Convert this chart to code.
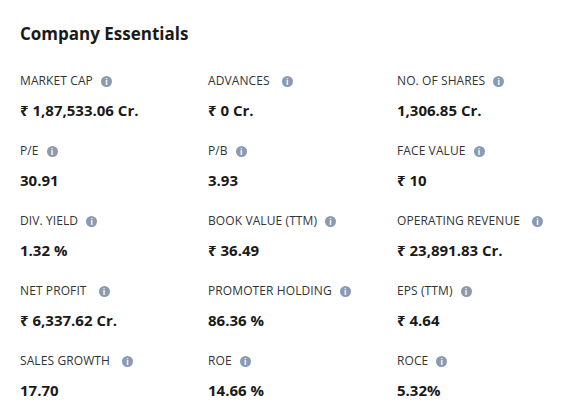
<!DOCTYPE html>
<html><head><meta charset="utf-8">
<script src="https://cdn.jsdelivr.net/npm/chart.js@4"></script>
<style>
body{margin:0;width:574px;height:420px;background:#fff;font-family:"Open Sans","Noto Sans",sans-serif;color:#222;position:relative;overflow:hidden}
h1{position:absolute;left:20px;top:22px;margin:0;font-size:17px;font-weight:700;color:#1a1a1a}
.cell{position:absolute}
.lab{font-size:12px;color:#333;letter-spacing:0.1px;white-space:nowrap;line-height:16px}
.ic{display:inline-block;width:11px;height:11px;border-radius:50%;background:#8a9bb0;color:#fff;font-size:8px;line-height:11px;text-align:center;font-weight:700;margin-left:8px;vertical-align:0px}
.val{font-size:15px;font-weight:700;color:#1a1a1a;margin-top:11px;white-space:nowrap}
</style></head><body>
<h1>Company Essentials</h1>
<div id="grid"></div>
<script>
const labels=["MARKET CAP","ADVANCES","NO. OF SHARES","P/E","P/B","FACE VALUE","DIV. YIELD","BOOK VALUE (TTM)","OPERATING REVENUE","NET PROFIT","PROMOTER HOLDING","EPS (TTM)","SALES GROWTH","ROE","ROCE"];
const values=["₹ 1,87,533.06 Cr.","₹ 0 Cr.","1,306.85 Cr.","30.91","3.93","₹ 10","1.32 %","₹  36.49","₹ 23,891.83 Cr.","₹ 6,337.62 Cr.","86.36 %","₹  4.64","17.70","14.66 %","5.32%"];
const iconGap=[8,12,8,8,8,8,8,8,12,12,8,8,12,8,8];
const colX=[20,208,397], rowY=[73,143,213,283,353];
const g=document.getElementById('grid');
labels.forEach((l,i)=>{
  const d=document.createElement('div');d.className='cell';
  d.style.left=colX[i%3]+'px';d.style.top=rowY[Math.floor(i/3)]+'px';
  d.innerHTML='<div class="lab">'+l+'<span class="ic" style="margin-left:'+iconGap[i]+'px">i</span></div><div class="val">'+values[i]+'</div>';
  g.appendChild(d);
});
</script>
</body></html>
